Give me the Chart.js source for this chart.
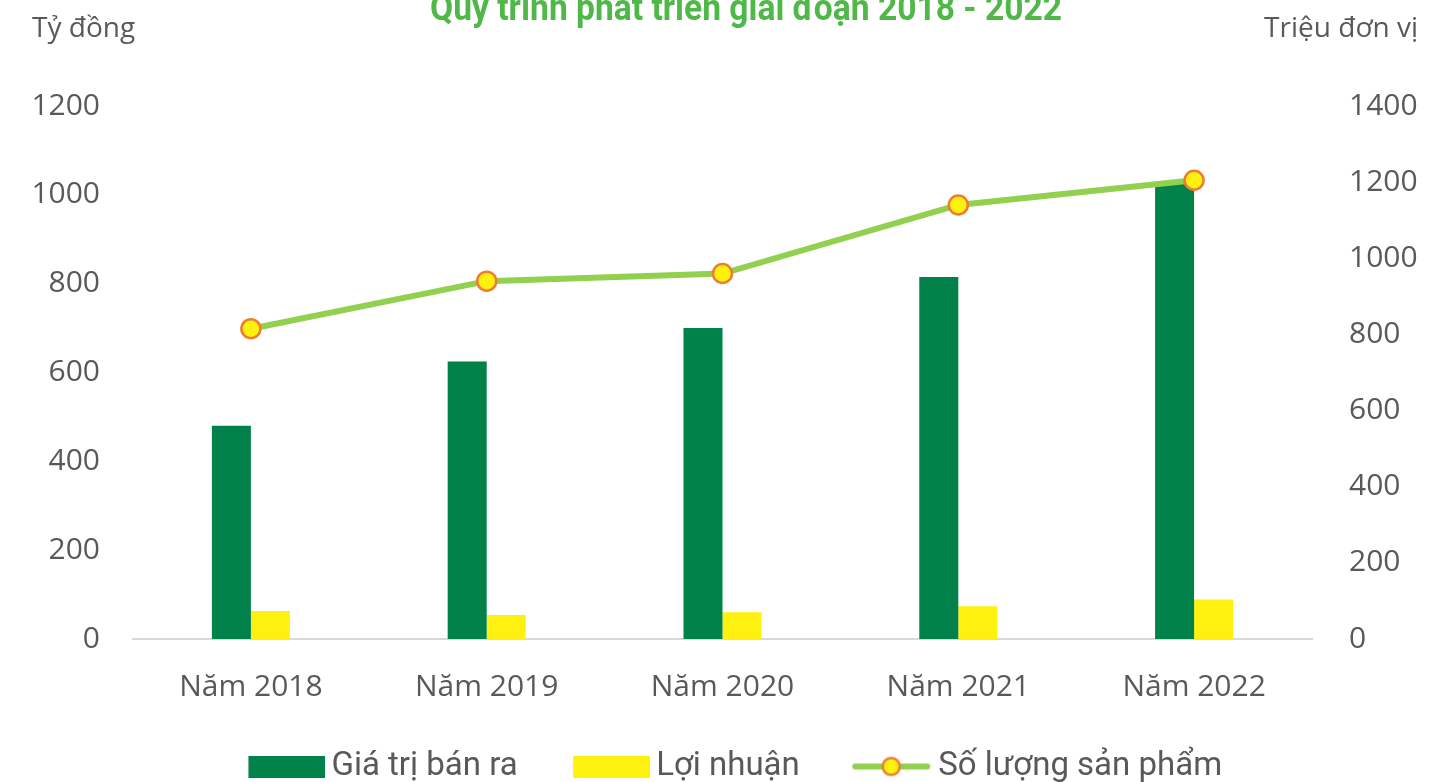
<!DOCTYPE html>
<html>
<head>
<meta charset="utf-8">
<script src="https://cdn.jsdelivr.net/npm/chart.js@4.4.1/dist/chart.umd.min.js"></script>
<style>
  html, body { margin: 0; padding: 0; background: #fff; overflow: hidden; width: 1446px; height: 782px; }
  #wrap { position: absolute; left: 0; top: -24px; width: 1446px; height: 817px; }
</style>
</head>
<body>
<div id="wrap"><canvas id="chart" width="1446" height="817"></canvas></div>
<script>
const years = ['Năm 2018', 'Năm 2019', 'Năm 2020', 'Năm 2021', 'Năm 2022'];
const salesValue = [480, 625, 700, 815, 1025];   // Tỷ đồng
const profit = [63, 54, 60, 74, 89];              // Tỷ đồng
const productCount = [815, 940, 960, 1140, 1205]; // Triệu đơn vị
const seriesNames = ['Giá trị bán ra', 'Lợi nhuận', 'Số lượng sản phẩm'];
const titleText = 'Quy trình phát triển giai đoạn 2018 - 2022';
const leftAxisTitle = 'Tỷ đồng';
const rightAxisTitle = 'Triệu đơn vị';

const GREEN = '#00824A';
const YELLOW = '#FFF10F';
const LINE_GREEN = '#92D050';
const ORANGE = '#ED7D31';
const GREY = '#595959';
const tickFont = { family: "'Open Sans', sans-serif", size: 30 };
const legendFamily = "Roboto, sans-serif";

// legend symbols: transparent space on the left, symbol on the right
const SYM_W = 112;
function boxImage(color) {
  const c = document.createElement('canvas');
  c.width = SYM_W; c.height = 22;
  const g = c.getContext('2d');
  g.fillStyle = color;
  g.fillRect(SYM_W - 77, 0, 77, 22);
  return c;
}

function lineImage() {
  const c = document.createElement('canvas');
  c.width = SYM_W; c.height = 24;
  const g = c.getContext('2d');
  const x0 = SYM_W - 80, x1 = SYM_W - 2, xm = (x0 + x1) / 2;
  g.strokeStyle = LINE_GREEN;
  g.lineWidth = 6;
  g.lineCap = 'round';
  g.beginPath(); g.moveTo(x0 + 3, 12); g.lineTo(x1 - 3, 12); g.stroke();
  g.beginPath(); g.arc(xm, 12, 8.5, 0, Math.PI * 2);
  g.fillStyle = YELLOW; g.fill();
  g.lineWidth = 2.5; g.strokeStyle = ORANGE; g.stroke();
  return c;
}

const legendImages = [boxImage(GREEN), boxImage(YELLOW), lineImage()];

// title and the two unit labels above the axes
const headerPlugin = {
  id: 'header',
  afterDraw(chart) {
    const ctx = chart.ctx;
    ctx.save();
    ctx.font = 'bold 36px Roboto, sans-serif';
    ctx.fillStyle = '#4FB848';
    ctx.textAlign = 'center';
    ctx.textBaseline = 'alphabetic';
    const w = ctx.measureText(titleText).width;
    ctx.translate(746, 44);
    ctx.scale(632 / w, 1);
    ctx.fillText(titleText, 0, 0);
    ctx.restore();

    ctx.save();
    ctx.font = "28px 'Open Sans', sans-serif";
    ctx.fillStyle = GREY;
    ctx.textBaseline = 'alphabetic';
    ctx.textAlign = 'left';
    ctx.fillText(leftAxisTitle, 32, 61);
    ctx.textAlign = 'right';
    ctx.fillText(rightAxisTitle, 1418, 61);
    ctx.restore();
  }
};

const plainNumber = v => String(v);

const ctx = document.getElementById('chart').getContext('2d');
new Chart(ctx, {
  type: 'bar',
  data: {
    labels: years,
    datasets: [
      {
        label: seriesNames[0],
        data: salesValue,
        backgroundColor: GREEN,
        yAxisID: 'y',
        order: 2,
        categoryPercentage: 0.331,
        barPercentage: 1
      },
      {
        label: seriesNames[1],
        data: profit,
        backgroundColor: YELLOW,
        yAxisID: 'y',
        order: 2,
        categoryPercentage: 0.331,
        barPercentage: 1
      },
      {
        type: 'line',
        label: seriesNames[2],
        data: productCount,
        yAxisID: 'y1',
        order: 0,
        borderColor: LINE_GREEN,
        borderWidth: 6,
        tension: 0,
        pointRadius: 9.5,
        pointBackgroundColor: YELLOW,
        pointBorderColor: ORANGE,
        pointBorderWidth: 2.5
      }
    ]
  },
  options: {
    responsive: false,
    animation: false,
    layout: { padding: { top: 130, left: 0, right: 0, bottom: 0 } },
    plugins: {
      tooltip: { enabled: false },
      title: { display: false },
      legend: {
        position: 'bottom',
        labels: {
          usePointStyle: true,
          pointStyleWidth: 91,
          padding: 31,
          color: GREY,
          font: { family: legendFamily, size: 33 },
          generateLabels(chart) {
            return chart.data.datasets.map((ds, i) => ({
              text: ds.label,
              pointStyle: legendImages[i],
              fillStyle: 'transparent',
              strokeStyle: 'transparent',
              lineWidth: 0,
              fontColor: GREY,
              hidden: false,
              datasetIndex: i
            }));
          }
        }
      }
    },
    scales: {
      x: {
        grid: { display: false, drawTicks: false },
        border: { display: true, color: '#D9D9D9', width: 2 },
        ticks: { color: GREY, font: tickFont, padding: 30, maxRotation: 0 },
        afterFit(scale) { scale.height = 80; }
      },
      y: {
        position: 'left',
        min: 0,
        max: 1200,
        ticks: { stepSize: 200, color: GREY, font: tickFont, padding: 33, callback: plainNumber },
        grid: { display: false, drawTicks: false },
        border: { display: false },
        afterFit(scale) { scale.width = 133; }
      },
      y1: {
        position: 'right',
        min: 0,
        max: 1400,
        ticks: { stepSize: 200, color: GREY, font: tickFont, padding: 37, callback: plainNumber },
        grid: { display: false, drawTicks: false },
        border: { display: false },
        afterFit(scale) { scale.width = 134; }
      }
    }
  },
  plugins: [headerPlugin]
});
</script>
</body>
</html>
